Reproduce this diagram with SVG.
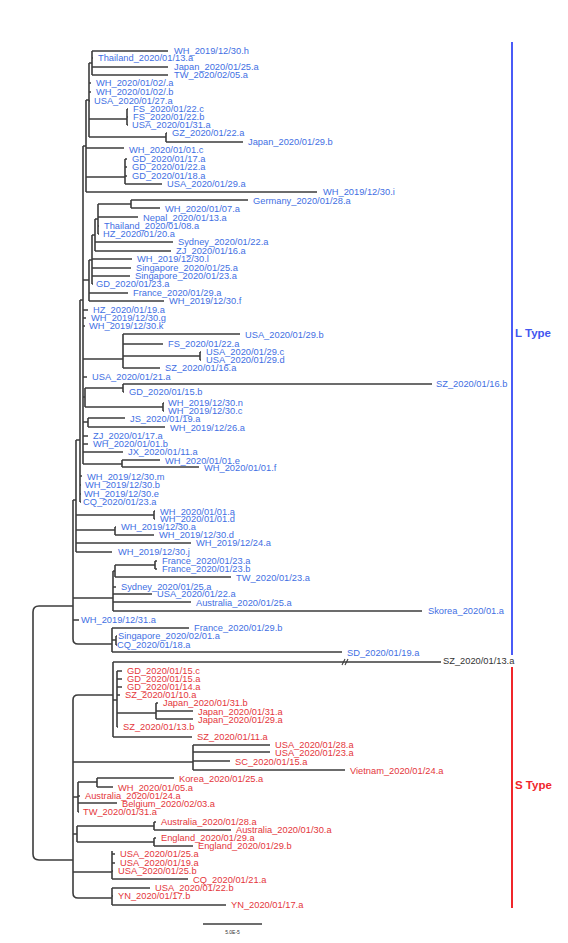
<svg xmlns="http://www.w3.org/2000/svg" width="568" height="943" viewBox="0 0 568 943">
<style>
text{font-family:"Liberation Sans",Arial,sans-serif;font-size:9.3px;dominant-baseline:central}
.l{fill:#3f6fe3}
.s{fill:#e4363b}
.k{fill:#333}
.br path{fill:none;stroke:#3c3c3c;stroke-width:1.6;stroke-linejoin:round}
.t{font-weight:bold;font-size:11.5px}
</style>
<rect width="568" height="943" fill="#fff"/>
<g id="connectors" class="br">
<path d="M73,606 H39 Q33,606 33,612 V854 Q33,860 39,860 H73"/>
<path d="M73,500 V639 Q73,644 78,644 H112 M73,500 H76 M73,598 H113 M73,620 H79"/>
<path d="M76,440 V552 M76,440 H80 M76,515 H154 M76,530 H115 M76,543 H191 M76,552 H112"/>
<path d="M80,300 V502 M80,300 H83 M80,476 H82 M80,485 H81 M80,494 H81 M80,502 H81"/>
<path d="M83,146 V464 M83,146 H86 M83,280 H89 M83,310 H88 M83,318 H86 M83,326 H85 M83,359 H123 M83,377 H87 M83,397 H85 M83,422 H88 M83,436 H88 M83,444 H88 M83,452 H123 M83,464 H122"/>
<path d="M86,100 V192 M86,100 H89 M86,148 H124 M86,177 H125 M86,192 H317"/>
<path d="M89,63 V137 M89,63 H92 M89,83 H91 M89,92 H91 M89,101 H90 M89,119 H127 M89,137 H166"/>
<path d="M92,51 V75 M92,51 H168 M92,58 H93 M92,67 H168 M92,75 H168"/>
<path d="M127,109 V125 M127,109 H128 M127,117 H128 M127,125 H128"/>
<path d="M166,133 V142 M166,133 H167 M166,142 H243"/>
<path d="M125,159 V184 M125,159 H127 M125,167 H127 M125,176 H127 M125,184 H162"/>
<path d="M98,204 V234 M98,204 H131 M98,217 H138 M98,226 H99 M98,234 H99"/>
<path d="M131,200 V208 M131,200 H248 M131,208 H160"/>
<path d="M95,219 V251 M95,219 H98 M95,242 H173 M95,251 H171"/>
<path d="M92,235 V284 M92,235 H95 M92,259 H132 M92,268 H131 M92,276 H130 M92,284 H93"/>
<path d="M89,260 V301 M89,260 H92 M89,293 H128 M89,301 H164"/>
<path d="M123,334 V368 M123,334 H240 M123,344 H163 M123,356 H200 M123,368 H160"/>
<path d="M200,352 V360 M200,352 H201 M200,360 H201"/>
<path d="M85,388 V407 M85,388 H123 M85,407 H163"/>
<path d="M123,384 V392 M123,384 H432 M123,392 H124"/>
<path d="M163,403 V411 M163,403 H164 M163,411 H164"/>
<path d="M88,418 V427 M88,418 H125 M88,427 H165"/>
<path d="M122,460 V467 M122,460 H160 M122,467 H199"/>
<path d="M154,511 V519 M154,511 H155 M154,519 H155"/>
<path d="M115,527 V535 M115,527 H116 M115,535 H154"/>
<path d="M155,561 V569 M155,561 H157 M155,569 H157"/>
<path d="M115,565 V577 M115,565 H155 M115,577 H231"/>
<path d="M113,571 V611 M113,571 H115 M113,587 H116 M113,594 H152 M113,602 H191 M113,611 H422"/>
<path d="M112,628 V652 M112,628 H189 M112,640 H116 M112,652 H342"/>
<path d="M116,636 V645 M116,636 H117 M116,645 H117"/>
<path d="M113,695 H78 Q73,695 73,700 V893 Q73,898 78,898 H112 M73,762 H193 M73,797 H78 M73,834 H77 M73,872 H112"/>
<path d="M113,662 V737 M113,662 H441 M113,700 H117 M113,737 H192"/>
<path d="M342,665 L345,659 M345,665 L348,659" style="stroke-width:1.1"/>
<path d="M117,671 V727 M117,671 H122 M117,679 H122 M117,687 H122 M117,695 H120 M117,713 H156 M117,727 H118"/>
<path d="M156,703 V719 M156,703 H158 M156,711 H193 M156,719 H193"/>
<path d="M193,745 V770 M193,745 H270 M193,752 H270 M193,761 H230 M193,770 H345"/>
<path d="M78,782 V812 M78,782 H97 M78,796 H80 M78,803 H117 M78,812 H79"/>
<path d="M97,778 V787 M97,778 H174 M97,787 H113"/>
<path d="M77,826 V842 M77,826 H154 M77,842 H154"/>
<path d="M154,822 V830 M154,822 H156 M154,830 H231"/>
<path d="M154,838 V846 M154,838 H156 M154,846 H193"/>
<path d="M112,851 V879 M112,854 H115 M112,863 H115 M112,871 H113 M112,879 H188"/>
<path d="M112,888 V905 M112,888 H150 M112,896 H113 M112,905 H226"/>
</g>
<g id="Ltype"><line x1="512" y1="42" x2="512" y2="655" stroke="#4a5bf7" stroke-width="2"/><text class="l t" x="515" y="333" style="fill:#4257f0">L Type</text></g>
<g id="Stype"><line x1="512" y1="667" x2="512" y2="908" stroke="#f0262b" stroke-width="2"/><text class="s t" x="515" y="785" style="fill:#f0262b">S Type</text></g>
<g id="leavesL" class="l">
<g id="n1"><text x="174" y="51">WH_2019/12/30.h</text></g>
<g id="n2"><text x="98" y="58">Thailand_2020/01/13.a</text></g>
<g id="n3"><text x="174" y="67">Japan_2020/01/25.a</text></g>
<g id="n4"><text x="174" y="75">TW_2020/02/05.a</text></g>
<g id="n5"><text x="96" y="83">WH_2020/01/02/.a</text></g>
<g id="n6"><text x="96" y="92">WH_2020/01/02/.b</text></g>
<g id="n7"><text x="94" y="101">USA_2020/01/27.a</text></g>
<g id="n8"><text x="133" y="109">FS_2020/01/22.c</text></g>
<g id="n9"><text x="133" y="117">FS_2020/01/22.b</text></g>
<g id="n10"><text x="132" y="125">USA_2020/01/31.a</text></g>
<g id="n11"><text x="172" y="133">GZ_2020/01/22.a</text></g>
<g id="n12"><text x="248" y="142">Japan_2020/01/29.b</text></g>
<g id="n13"><text x="129" y="150">WH_2020/01/01.c</text></g>
<g id="n14"><text x="132" y="159">GD_2020/01/17.a</text></g>
<g id="n15"><text x="132" y="167">GD_2020/01/22.a</text></g>
<g id="n16"><text x="132" y="176">GD_2020/01/18.a</text></g>
<g id="n17"><text x="167" y="184">USA_2020/01/29.a</text></g>
<g id="n18"><text x="323" y="192">WH_2019/12/30.i</text></g>
<g id="n19"><text x="253" y="201">Germany_2020/01/28.a</text></g>
<g id="n20"><text x="165" y="209">WH_2020/01/07.a</text></g>
<g id="n21"><text x="143" y="218">Nepal_2020/01/13.a</text></g>
<g id="n22"><text x="104" y="226">Thailand_2020/01/08.a</text></g>
<g id="n23"><text x="103" y="234">HZ_2020/01/20.a</text></g>
<g id="n24"><text x="178" y="242">Sydney_2020/01/22.a</text></g>
<g id="n25"><text x="176" y="251">ZJ_2020/01/16.a</text></g>
<g id="n26"><text x="137" y="259">WH_2019/12/30.l</text></g>
<g id="n27"><text x="136" y="268">Singapore_2020/01/25.a</text></g>
<g id="n28"><text x="135" y="276">Singapore_2020/01/23.a</text></g>
<g id="n29"><text x="96" y="284">GD_2020/01/23.a</text></g>
<g id="n30"><text x="133" y="293">France_2020/01/29.a</text></g>
<g id="n31"><text x="169" y="301">WH_2019/12/30.f</text></g>
<g id="n32"><text x="93" y="310">HZ_2020/01/19.a</text></g>
<g id="n33"><text x="91" y="318">WH_2019/12/30.g</text></g>
<g id="n34"><text x="89" y="326">WH_2019/12/30.k</text></g>
<g id="n35"><text x="245" y="335">USA_2020/01/29.b</text></g>
<g id="n36"><text x="168" y="344">FS_2020/01/22.a</text></g>
<g id="n37"><text x="206" y="352">USA_2020/01/29.c</text></g>
<g id="n38"><text x="206" y="360">USA_2020/01/29.d</text></g>
<g id="n39"><text x="165" y="368">SZ_2020/01/16.a</text></g>
<g id="n40"><text x="92" y="377">USA_2020/01/21.a</text></g>
<g id="n41"><text x="436" y="384">SZ_2020/01/16.b</text></g>
<g id="n42"><text x="129" y="392">GD_2020/01/15.b</text></g>
<g id="n43"><text x="168" y="403">WH_2019/12/30.n</text></g>
<g id="n44"><text x="168" y="411">WH_2019/12/30.c</text></g>
<g id="n45"><text x="130" y="419">JS_2020/01/19.a</text></g>
<g id="n46"><text x="170" y="428">WH_2019/12/26.a</text></g>
<g id="n47"><text x="93" y="436">ZJ_2020/01/17.a</text></g>
<g id="n48"><text x="93" y="444">WH_2020/01/01.b</text></g>
<g id="n49"><text x="128" y="452">JX_2020/01/11.a</text></g>
<g id="n50"><text x="165" y="461">WH_2020/01/01.e</text></g>
<g id="n51"><text x="204" y="468">WH_2020/01/01.f</text></g>
<g id="n52"><text x="87" y="477">WH_2019/12/30.m</text></g>
<g id="n53"><text x="85" y="485">WH_2019/12/30.b</text></g>
<g id="n54"><text x="84" y="494">WH_2019/12/30.e</text></g>
<g id="n55"><text x="83" y="502">CQ_2020/01/23.a</text></g>
<g id="n56"><text x="160" y="512">WH_2020/01/01.a</text></g>
<g id="n57"><text x="160" y="519">WH_2020/01/01.d</text></g>
<g id="n58"><text x="121" y="527">WH_2019/12/30.a</text></g>
<g id="n59"><text x="159" y="535">WH_2019/12/30.d</text></g>
<g id="n60"><text x="196" y="543">WH_2019/12/24.a</text></g>
<g id="n61"><text x="118" y="552">WH_2019/12/30.j</text></g>
<g id="n62"><text x="162" y="561">France_2020/01/23.a</text></g>
<g id="n63"><text x="162" y="569">France_2020/01/23.b</text></g>
<g id="n64"><text x="236" y="578">TW_2020/01/23.a</text></g>
<g id="n65"><text x="121" y="587">Sydney_2020/01/25.a</text></g>
<g id="n66"><text x="157" y="594">USA_2020/01/22.a</text></g>
<g id="n67"><text x="196" y="603">Australia_2020/01/25.a</text></g>
<g id="n68"><text x="428" y="611">Skorea_2020/01.a</text></g>
<g id="n69"><text x="81" y="620">WH_2019/12/31.a</text></g>
<g id="n70"><text x="194" y="628">France_2020/01/29.b</text></g>
<g id="n71"><text x="118" y="636">Singapore_2020/02/01.a</text></g>
<g id="n72"><text x="117" y="645">CQ_2020/01/18.a</text></g>
<g id="n73"><text x="347" y="653">SD_2020/01/19.a</text></g>
</g>
<g id="n74"><text class="k" x="443" y="661">SZ_2020/01/13.a</text></g>
<g id="leavesS" class="s">
<g id="n75"><text x="127" y="671">GD_2020/01/15.c</text></g>
<g id="n76"><text x="127" y="679">GD_2020/01/15.a</text></g>
<g id="n77"><text x="127" y="687">GD_2020/01/14.a</text></g>
<g id="n78"><text x="125" y="695">SZ_2020/01/10.a</text></g>
<g id="n79"><text x="163" y="703">Japan_2020/01/31.b</text></g>
<g id="n80"><text x="198" y="712">Japan_2020/01/31.a</text></g>
<g id="n81"><text x="198" y="720">Japan_2020/01/29.a</text></g>
<g id="n82"><text x="123" y="727">SZ_2020/01/13.b</text></g>
<g id="n83"><text x="197" y="737">SZ_2020/01/11.a</text></g>
<g id="n84"><text x="275" y="745">USA_2020/01/28.a</text></g>
<g id="n85"><text x="275" y="753">USA_2020/01/23.a</text></g>
<g id="n86"><text x="235" y="762">SC_2020/01/15.a</text></g>
<g id="n87"><text x="350" y="771">Vietnam_2020/01/24.a</text></g>
<g id="n88"><text x="179" y="779">Korea_2020/01/25.a</text></g>
<g id="n89"><text x="118" y="788">WH_2020/01/05.a</text></g>
<g id="n90"><text x="85" y="796">Australia_2020/01/24.a</text></g>
<g id="n91"><text x="122" y="804">Belgium_2020/02/03.a</text></g>
<g id="n92"><text x="83" y="812">TW_2020/01/31.a</text></g>
<g id="n93"><text x="161" y="822">Australia_2020/01/28.a</text></g>
<g id="n94"><text x="236" y="830">Australia_2020/01/30.a</text></g>
<g id="n95"><text x="161" y="838">England_2020/01/29.a</text></g>
<g id="n96"><text x="198" y="846">England_2020/01/29.b</text></g>
<g id="n97"><text x="120" y="854">USA_2020/01/25.a</text></g>
<g id="n98"><text x="120" y="863">USA_2020/01/19.a</text></g>
<g id="n99"><text x="118" y="871">USA_2020/01/25.b</text></g>
<g id="n100"><text x="193" y="880">CQ_2020/01/21.a</text></g>
<g id="n101"><text x="155" y="888">USA_2020/01/22.b</text></g>
<g id="n102"><text x="118" y="896">YN_2020/01/17.b</text></g>
<g id="n103"><text x="231" y="905">YN_2020/01/17.a</text></g>
</g>
<g id="scale"><line x1="203" y1="924" x2="262" y2="924" stroke="#3c3c3c" stroke-width="1.5"/><text class="k" x="232.5" y="932" style="font-size:5px" text-anchor="middle">5.0E-5</text></g>
</svg>
